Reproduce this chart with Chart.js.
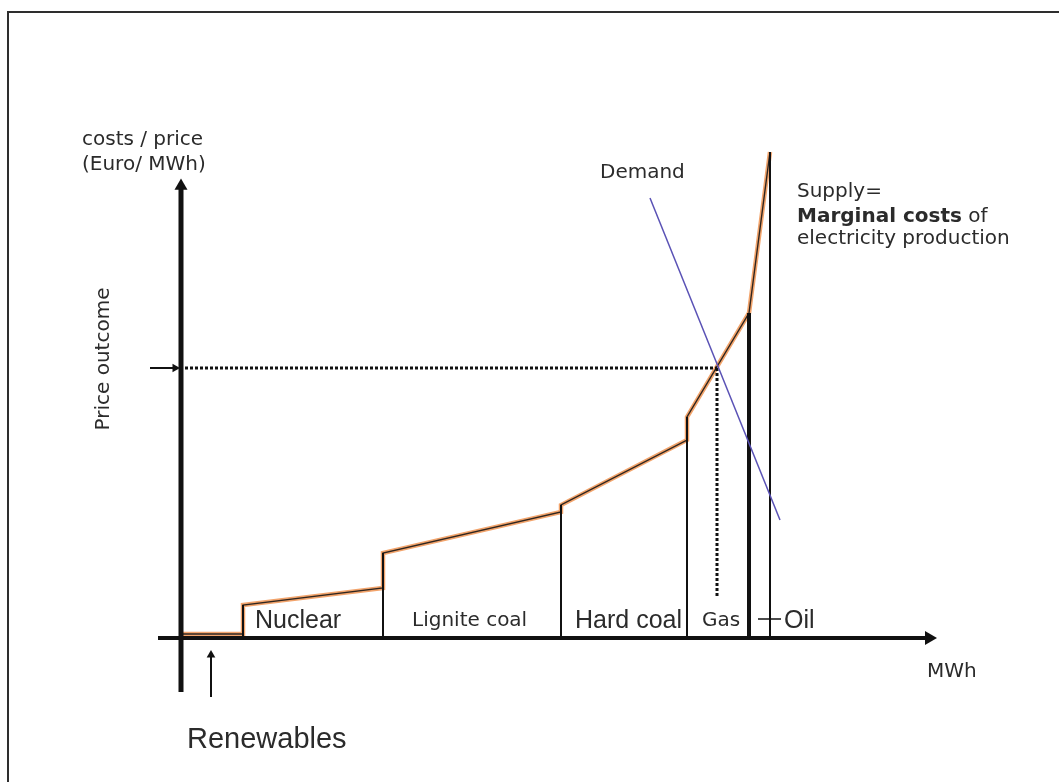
<!DOCTYPE html>
<html><head><meta charset="utf-8">
<script src="https://cdn.jsdelivr.net/npm/chart.js@4.4.1/dist/chart.umd.min.js"></script>
<style>
html,body{margin:0;padding:0;background:#fff;}
#wrap{position:relative;width:1059px;height:782px;overflow:hidden;}
#frame{position:absolute;left:7px;top:11px;width:1060px;height:780px;border-top:2px solid #2e2e2e;border-left:2px solid #2e2e2e;}
canvas{position:absolute;left:0;top:0;}
</style></head><body>
<div id="wrap"><div id="frame"></div><canvas id="c" width="1059" height="782"></canvas></div>
<script>
// ---- data (arbitrary quantity / cost units of the schematic merit-order diagram) ----
const supplyQ    = [0, 6.2, 6.2, 20.2, 20.2, 38.0, 38.0, 50.6, 50.6, 56.8, 58.9];
const supplyCost = [0.4, 0.4, 3.3, 5.0, 8.5, 12.6, 13.3, 19.8, 22.1, 32.5, 48.6];
const blockEdgeQ   = [6.2, 20.2, 38.0, 50.6, 56.8, 58.9];
const blockEdgeTop = [3.3, 8.5, 13.3, 22.1, 32.5, 48.6];
const demandQ     = [46.9, 59.9];
const demandPrice = [44.0, 11.8];
const equilibriumQ = 53.6;
const equilibriumPrice = 27.0;
const technologies = ['Nuclear', 'Lignite coal', 'Hard coal', 'Gas', 'Oil'];

// ---- styling / layout ----
const edgeWidths = [2, 2, 2, 2, 4, 2];
const INK = '#111';
const TXT = '#2b2b2b';
const verd = s => s + 'px "DejaVu Sans", Verdana, sans-serif';
const arial = s => s + 'px "Liberation Sans", Arial, sans-serif';

const pts = (xs, ys) => xs.map((v, i) => ({x: v, y: ys[i]}));
const seg = (data, color, width, extra = {}) => Object.assign({
  type: 'line', data, borderColor: color, borderWidth: width, pointRadius: 0,
  fill: false, tension: 0, borderCapStyle: 'butt', borderJoinStyle: 'miter'
}, extra);
const arrow = (data, width, r, rot, order) => seg(data, INK, width, {
  pointRadius: [0, r], pointStyle: 'triangle', pointRotation: rot,
  pointBackgroundColor: INK, pointBorderColor: INK, pointBorderWidth: 0, order
});

const datasets = [];
// supply curve: orange body with a dark edge
datasets.push(seg(pts(supplyQ, supplyCost), '#f2a46c', 4.5, {order: 6}));
datasets.push(seg(pts(supplyQ, supplyCost), '#2f2620', 1.4, {order: 5}));
// block dividers
blockEdgeQ.forEach((q, i) => datasets.push(seg([{x: q, y: 0}, {x: q, y: blockEdgeTop[i]}], INK, edgeWidths[i], {order: 4})));
// demand
datasets.push(seg(pts(demandQ, demandPrice), '#5a52b5', 1.5, {order: 3}));
// equilibrium dotted lines
datasets.push(seg([{x: 0.4, y: equilibriumPrice}, {x: equilibriumQ, y: equilibriumPrice}], INK, 3, {borderDash: [3, 2], order: 4}));
datasets.push(seg([{x: equilibriumQ, y: equilibriumPrice}, {x: equilibriumQ, y: 4.0}], INK, 3, {borderDash: [3, 2], order: 4}));
// oil tick
datasets.push(seg([{x: 57.7, y: 1.9}, {x: 60.0, y: 1.9}], INK, 1.5, {order: 2}));
// axes with arrowheads
datasets.push(arrow([{x: 0, y: -5.4}, {x: 0, y: 45.2}], 5, 7.5, 0, 1));
datasets.push(arrow([{x: -2.3, y: 0}, {x: 74.8, y: 0}], 4, 8, 90, 1));
// price-outcome marker arrow and renewables arrow
datasets.push(arrow([{x: -3.1, y: equilibriumPrice}, {x: -0.6, y: equilibriumPrice}], 2, 5, 90, 1));
datasets.push(arrow([{x: 3.0, y: -5.9}, {x: 3.0, y: -1.7}], 2, 5, 0, 1));

const notes = [
  {text: 'costs / price', x: -9.9, y: 49.8, font: verd(20)},
  {text: '(Euro/ MWh)', x: -9.9, y: 47.3, font: verd(20)},
  {text: 'Price outcome', x: -7.7, y: 27.9, font: verd(20), rot: -Math.PI / 2, align: 'center'},
  {text: 'Demand', x: 41.9, y: 46.5, font: verd(20)},
  {text: 'Supply=', x: 61.6, y: 44.6, font: verd(20)},
  {parts: [{text: 'Marginal costs', font: 'bold ' + verd(20)}, {text: ' of', font: verd(20)}], x: 61.6, y: 42.1},
  {text: 'electricity production', x: 61.6, y: 39.9, font: verd(20)},
  {text: technologies[0], x: 7.4, y: 1.7, font: arial(25)},
  {text: technologies[1], x: 23.1, y: 1.7, font: verd(20)},
  {text: technologies[2], x: 39.4, y: 1.7, font: arial(25)},
  {text: technologies[3], x: 52.1, y: 1.7, font: verd(20)},
  {text: technologies[4], x: 60.3, y: 1.7, font: arial(25)},
  {text: 'MWh', x: 74.6, y: -3.4, font: verd(20)},
  {text: 'Renewables', x: 0.6, y: -10.2, font: arial(29)}
];

const textPlugin = {
  id: 'texts',
  afterDatasetsDraw(chart) {
    const {ctx, scales: {x, y}} = chart;
    for (const t of notes) {
      ctx.save();
      ctx.fillStyle = TXT;
      ctx.textBaseline = 'middle';
      ctx.textAlign = t.align || 'left';
      ctx.translate(x.getPixelForValue(t.x), y.getPixelForValue(t.y));
      if (t.rot) ctx.rotate(t.rot);
      if (t.parts) {
        let cx = 0;
        for (const p of t.parts) { ctx.font = p.font; ctx.fillText(p.text, cx, 0); cx += ctx.measureText(p.text).width; }
      } else { ctx.font = t.font; ctx.fillText(t.text, 0, 0); }
      ctx.restore();
    }
  }
};

new Chart(document.getElementById('c'), {
  type: 'line',
  data: {datasets},
  options: {
    responsive: false, animation: false, events: [],
    layout: {padding: 0, autoPadding: false},
    plugins: {legend: {display: false}, tooltip: {enabled: false}, title: {display: false}},
    scales: {
      x: {type: 'linear', min: -18.1, max: 87.8, display: false},
      y: {type: 'linear', min: -14.4, max: 63.8, display: false}
    }
  },
  plugins: [textPlugin]
});
</script>
</body></html>
